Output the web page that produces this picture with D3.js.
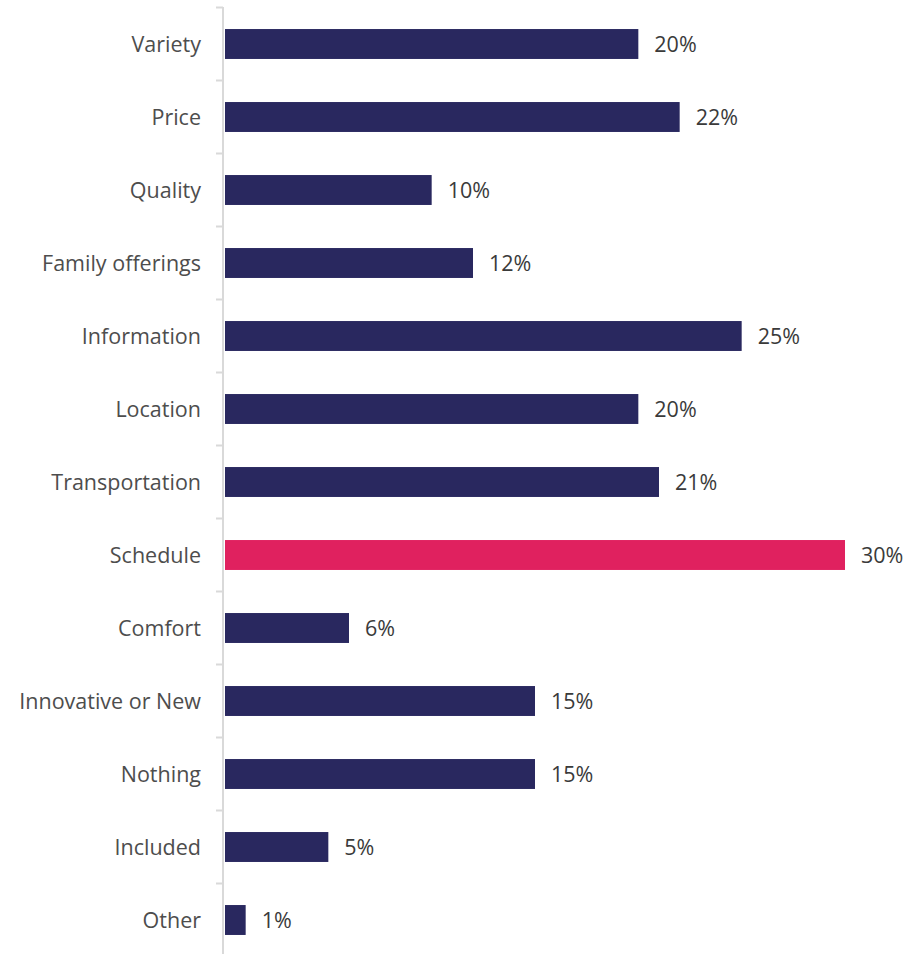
<!DOCTYPE html>
<html>
<head>
<meta charset="utf-8">
<script src="https://cdn.jsdelivr.net/npm/d3@7"></script>
<style>
  html, body { margin: 0; padding: 0; background: #ffffff; }
  svg { display: block; }
</style>
</head>
<body>
<svg id="chart" width="922" height="954"></svg>
<script>
// Share of respondents naming each factor
const categories = ["Variety", "Price", "Quality", "Family offerings", "Information", "Location",
  "Transportation", "Schedule", "Comfort", "Innovative or New", "Nothing", "Included", "Other"];
const values = [20, 22, 10, 12, 25, 20, 21, 30, 6, 15, 15, 5, 1];
const highlighted = ["Schedule"];

const data = categories.map((c, i) => ({ category: c, value: values[i] }));

const svg = d3.select("#chart");
const font = "'Open Sans', 'Noto Sans', sans-serif";

const x = d3.scaleLinear().domain([0, 30]).range([225, 845]);
const y = d3.scaleBand().domain(categories).range([7.5, 956.5]).paddingInner(0.59).paddingOuter(0.295);

// Vertical category axis with ticks at band boundaries
const axisX = 223;
svg.append("line")
  .attr("x1", axisX).attr("x2", axisX)
  .attr("y1", 7).attr("y2", 954)
  .attr("stroke", "#d9d9d9").attr("stroke-width", 2);

const step = y.step();
const boundaries = d3.range(categories.length).map(i => 7.5 + i * step);
svg.append("g").selectAll("line")
  .data(boundaries)
  .join("line")
  .attr("x1", axisX - 7).attr("x2", axisX)
  .attr("y1", d => d).attr("y2", d => d)
  .attr("stroke", "#d9d9d9").attr("stroke-width", 2);

// Bars
svg.append("g").selectAll("rect")
  .data(data)
  .join("rect")
  .attr("x", x(0))
  .attr("y", d => y(d.category))
  .attr("width", d => x(d.value) - x(0))
  .attr("height", y.bandwidth())
  .attr("fill", d => highlighted.includes(d.category) ? "#e0215f" : "#29285f");

// Category labels
svg.append("g").selectAll("text")
  .data(data)
  .join("text")
  .attr("x", 201)
  .attr("y", d => y(d.category) + y.bandwidth() / 2)
  .attr("dy", "0.35em")
  .attr("text-anchor", "end")
  .attr("font-family", font)
  .attr("font-size", 21.5)
  .attr("fill", "#4d4d4d")
  .text(d => d.category);

// Value labels
svg.append("g").selectAll("text")
  .data(data)
  .join("text")
  .attr("x", d => x(d.value) + 16)
  .attr("y", d => y(d.category) + y.bandwidth() / 2)
  .attr("dy", "0.35em")
  .attr("font-family", font)
  .attr("font-size", 21.5)
  .attr("fill", "#3a3a3a")
  .text(d => d.value + "%");
</script>
</body>
</html>
